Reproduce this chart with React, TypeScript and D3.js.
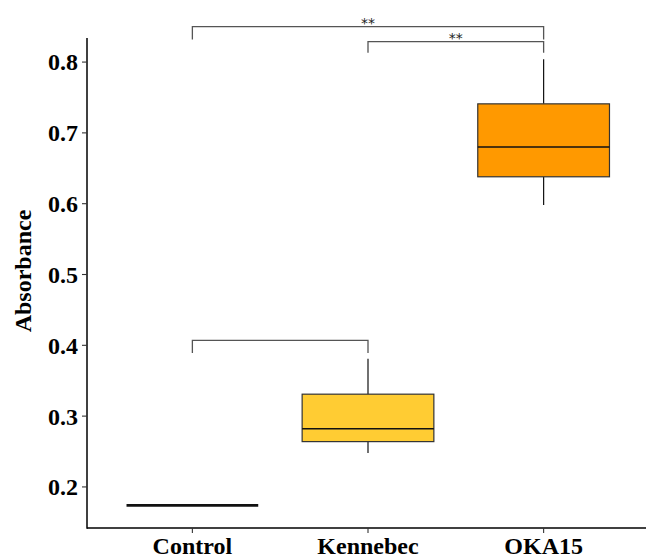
import React from 'react';
import * as d3 from 'd3';

/* data */
const categories = ['Control', 'Kennebec', 'OKA15'];
const whiskerLow = [0.174, 0.248, 0.598];
const q1 = [0.174, 0.264, 0.638];
const median = [0.174, 0.282, 0.680];
const q3 = [0.174, 0.331, 0.741];
const whiskerHigh = [0.174, 0.381, 0.804];
const fills = ['#FFFFFF', '#FFCC33', '#FF9900'];

const yTicks = [0.2, 0.3, 0.4, 0.5, 0.6, 0.7, 0.8];

/* significance brackets: from, to, bar height, tip height, label */
const bracketFrom = ['Control', 'Kennebec', 'Control'];
const bracketTo = ['OKA15', 'OKA15', 'Kennebec'];
const bracketY = [0.85, 0.829, 0.407];
const bracketTip = [0.832, 0.813, 0.389];
const bracketLabel = ['**', '**', ''];

const W = 646, H = 558;
const M = { t: 38, r: -3, b: 30, l: 87 };
const font = '"Liberation Serif", "Times New Roman", serif';

export default function App() {
  const x = d3.scalePoint<string>()
    .domain(categories)
    .range([M.l, W - M.r])
    .padding(0.6);
  const bw = x.step() * 0.75;

  const y = d3.scaleLinear().domain([0.142, 0.834]).range([H - M.b, M.t]);

  return (
    <div style={{ position: 'absolute', left: 0, top: 0 }}>
      <svg width={W} height={H} style={{ display: 'block', background: '#fff' }}>
        {/* boxes */}
        {categories.map((c, i) => {
          const cx = x(c)!;
          return (
            <g key={c}>
              <line x1={cx} x2={cx} y1={y(whiskerHigh[i])} y2={y(q3[i])} stroke="#111" strokeWidth={1.2} />
              <line x1={cx} x2={cx} y1={y(q1[i])} y2={y(whiskerLow[i])} stroke="#111" strokeWidth={1.2} />
              <rect
                x={cx - bw / 2}
                y={y(q3[i])}
                width={bw}
                height={Math.max(0, y(q1[i]) - y(q3[i]))}
                fill={fills[i]}
                stroke="#333"
                strokeWidth={1.2}
              />
              <line
                x1={cx - bw / 2}
                x2={cx + bw / 2}
                y1={y(median[i])}
                y2={y(median[i])}
                stroke="#111"
                strokeWidth={q1[i] === q3[i] ? 2.6 : 1.5}
              />
            </g>
          );
        })}

        {/* brackets */}
        {bracketFrom.map((f, i) => {
          const x1 = x(f)!, x2 = x(bracketTo[i])!;
          const yb = y(bracketY[i]), yt = y(bracketTip[i]);
          return (
            <g key={i}>
              <path
                d={`M${x1},${yt}V${yb}H${x2}V${yt}`}
                fill="none"
                stroke="#555"
                strokeWidth={1.3}
              />
              {bracketLabel[i] && (
                <text
                  x={(x1 + x2) / 2}
                  y={yb + 1.5}
                  textAnchor="middle"
                  fontFamily="'DejaVu Sans', sans-serif"
                  fontSize={14}
                  fill="#222"
                >
                  {bracketLabel[i]}
                </text>
              )}
            </g>
          );
        })}

        {/* y axis */}
        <line x1={M.l} x2={M.l} y1={M.t} y2={H - M.b + 0.75} stroke="#000" strokeWidth={1.5} />
        {yTicks.map(t => (
          <g key={t} transform={`translate(${M.l},${y(t)})`}>
            <line x1={-5} x2={0} stroke="#333" strokeWidth={1.1} />
            <text
              x={-9}
              dy="0.35em"
              textAnchor="end"
              fontFamily={font}
              fontWeight="bold"
              fontSize={24}
              fill="#000"
            >
              {d3.format('.1f')(t)}
            </text>
          </g>
        ))}

        {/* x axis */}
        <line x1={M.l} x2={W} y1={H - M.b} y2={H - M.b} stroke="#000" strokeWidth={1.5} />
        {categories.map(c => (
          <g key={c} transform={`translate(${x(c)},${H - M.b})`}>
            <line y1={0} y2={5} stroke="#333" strokeWidth={1.1} />
            <text
              y={26}
              textAnchor="middle"
              fontFamily={font}
              fontWeight="bold"
              fontSize={24}
              fill="#000"
            >
              {c}
            </text>
          </g>
        ))}

        {/* axis title */}
        <text
          transform={`translate(31,271) rotate(-90)`}
          textAnchor="middle"
          fontFamily={font}
          fontWeight="bold"
          fontSize={24}
          fill="#000"
        >
          Absorbance
        </text>
      </svg>
    </div>
  );
}
